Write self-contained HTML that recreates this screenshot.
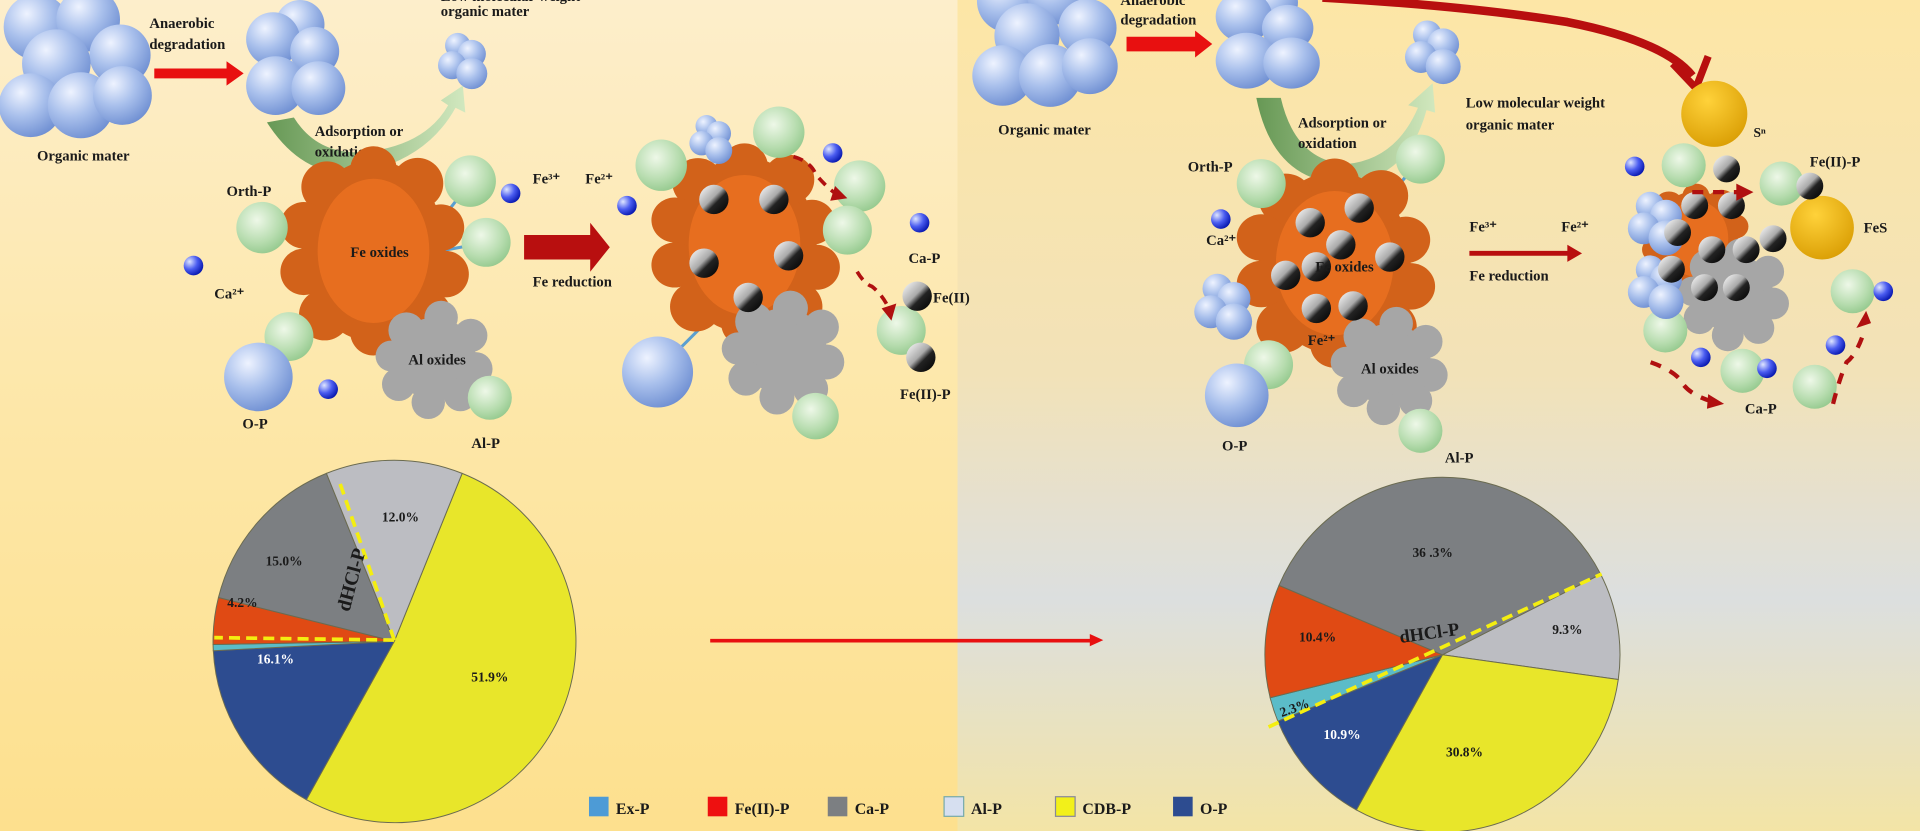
<!DOCTYPE html>
<html><head><meta charset="utf-8"><style>
html,body{margin:0;padding:0;width:1920px;height:831px;overflow:hidden;background:#fde7a6}
svg{display:block}
text{font-family:"Liberation Serif",serif;font-weight:bold;fill:#1a1a1a}
</style></head><body>
<svg width="1920" height="831" viewBox="0 0 1568 679" preserveAspectRatio="none" xmlns="http://www.w3.org/2000/svg">
<defs>
<linearGradient id="bgL" x1="0" y1="0" x2="0" y2="1"><stop offset="0" stop-color="#fdeecb"/><stop offset="0.5" stop-color="#fde7a8"/><stop offset="1" stop-color="#fde08e"/></linearGradient>
<linearGradient id="bgR" x1="0" y1="0" x2="0" y2="1"><stop offset="0" stop-color="#fde6a6"/><stop offset="0.45" stop-color="#f2e2b8"/><stop offset="0.72" stop-color="#dcdfdf"/><stop offset="1" stop-color="#f3e4a6"/></linearGradient>
<radialGradient id="bl" cx="0.35" cy="0.3" r="0.75"><stop offset="0" stop-color="#eef3ff"/><stop offset="0.5" stop-color="#a9c0ec"/><stop offset="1" stop-color="#6f8fd2"/></radialGradient>
<radialGradient id="gr" cx="0.4" cy="0.35" r="0.75"><stop offset="0" stop-color="#eef8e8"/><stop offset="0.6" stop-color="#b6dcae"/><stop offset="1" stop-color="#8cc486"/></radialGradient>
<radialGradient id="sb" cx="0.3" cy="0.3" r="0.8"><stop offset="0" stop-color="#dfe6ff"/><stop offset="0.5" stop-color="#4a5cf0"/><stop offset="1" stop-color="#0010a8"/></radialGradient>
<linearGradient id="bk" x1="0" y1="0" x2="1" y2="1"><stop offset="0" stop-color="#ffffff"/><stop offset="0.45" stop-color="#aaa"/><stop offset="0.6" stop-color="#222"/><stop offset="1" stop-color="#000"/></linearGradient>
<radialGradient id="au" cx="0.4" cy="0.3" r="0.8"><stop offset="0" stop-color="#ffd23a"/><stop offset="1" stop-color="#d79a00"/></radialGradient>
<linearGradient id="ga" x1="0" y1="0" x2="1" y2="0"><stop offset="0" stop-color="#5f9450"/><stop offset="1" stop-color="#cfe8bf"/></linearGradient>
<g id="big"><circle cx="30" cy="22" r="27" fill="url(#bl)"/><circle cx="72" cy="16" r="26" fill="url(#bl)"/><circle cx="98" cy="45" r="25" fill="url(#bl)"/><circle cx="46" cy="52" r="28" fill="url(#bl)"/><circle cx="25" cy="86" r="26" fill="url(#bl)"/><circle cx="66" cy="86" r="27" fill="url(#bl)"/><circle cx="100" cy="78" r="24" fill="url(#bl)"/></g>
<g id="mid"><circle cx="40" cy="18" r="20" fill="url(#bl)"/><circle cx="18" cy="30" r="22" fill="url(#bl)"/><circle cx="52" cy="40" r="20" fill="url(#bl)"/><circle cx="20" cy="68" r="24" fill="url(#bl)"/><circle cx="55" cy="70" r="22" fill="url(#bl)"/></g>
<g id="sm"><circle cx="12" cy="8" r="9" fill="url(#bl)"/><circle cx="22" cy="14" r="10" fill="url(#bl)"/><circle cx="8" cy="22" r="10" fill="url(#bl)"/><circle cx="22" cy="28" r="11" fill="url(#bl)"/></g>
<g id="ogb"><ellipse cx="0" cy="0" rx="62" ry="78" fill="#d2621a"/><circle cx="-40" cy="-55" r="22" fill="#d2621a"/><circle cx="0" cy="-70" r="20" fill="#d2621a"/><circle cx="38" cy="-58" r="22" fill="#d2621a"/><circle cx="58" cy="-20" r="20" fill="#d2621a"/><circle cx="62" cy="20" r="20" fill="#d2621a"/><circle cx="45" cy="55" r="22" fill="#d2621a"/><circle cx="0" cy="70" r="20" fill="#d2621a"/><circle cx="-42" cy="55" r="22" fill="#d2621a"/><circle cx="-60" cy="18" r="20" fill="#d2621a"/><circle cx="-60" cy="-22" r="20" fill="#d2621a"/><ellipse cx="0" cy="0" rx="48" ry="62" fill="#ec7220" opacity="0.8"/></g>
<g id="alb" fill="#a6a6a6"><ellipse cx="0" cy="0" rx="32" ry="32"/><circle cx="-22" cy="-22" r="14"/><circle cx="5" cy="-32" r="13"/><circle cx="28" cy="-18" r="13"/><circle cx="32" cy="8" r="13"/><circle cx="20" cy="28" r="13"/><circle cx="-5" cy="34" r="13"/><circle cx="-28" cy="20" r="13"/><circle cx="-34" cy="-2" r="12"/></g>
</defs>
<rect x="0" y="0" width="782" height="679" fill="url(#bgL)"/>
<rect x="782" y="0" width="786" height="679" fill="url(#bgR)"/>

<!-- LEFT TOP -->
<use href="#big" x="0" y="0"/>
<text x="68" y="131" font-size="12" text-anchor="middle">Organic mater</text>
<text x="122" y="23" font-size="12">Anaerobic</text><text x="122" y="40" font-size="12">degradation</text>
<path d="M126 56 H185 V50 L199 60 L185 70 V64 H126 Z" fill="#e81010"/>
<use href="#mid" x="205" y="2"/>
<use href="#sm" transform="translate(360,28) scale(1.15)"/>
<text x="360" y="1" font-size="12">Low  molecular weight</text><text x="360" y="13" font-size="12">organic mater</text>
<path d="M218 100 Q250 150 300 140 Q350 128 372 88 L380 92 L378 70 L360 82 L366 86 Q348 118 300 124 Q260 128 240 96 Z" fill="url(#ga)" opacity="0.95"/>
<text x="257" y="111" font-size="12">Adsorption or</text><text x="257" y="128" font-size="12">oxidation</text>
<g stroke="#5a9fd0" stroke-width="2.5"><line x1="214" y1="186" x2="260" y2="200"/><line x1="385" y1="148" x2="360" y2="180"/><line x1="398" y1="198" x2="360" y2="205"/><line x1="237" y1="275" x2="265" y2="255"/><line x1="400" y1="325" x2="370" y2="300"/></g>
<use href="#ogb" transform="translate(305,205) scale(0.95,0.95)"/>
<text x="310" y="210" font-size="12" text-anchor="middle">Fe oxides</text>
<use href="#alb" transform="translate(355,293) scale(1.05)"/>
<text x="357" y="298" font-size="12" text-anchor="middle">Al oxides</text>
<circle cx="214" cy="186" r="21" fill="url(#gr)"/>
<circle cx="384" cy="148" r="21" fill="url(#gr)"/>
<circle cx="397" cy="198" r="20" fill="url(#gr)"/>
<circle cx="236" cy="275" r="20" fill="url(#gr)"/>
<circle cx="400" cy="325" r="18" fill="url(#gr)"/>
<circle cx="211" cy="308" r="28" fill="url(#bl)"/>
<circle cx="158" cy="217" r="8" fill="url(#sb)"/><circle cx="417" cy="158" r="8" fill="url(#sb)"/><circle cx="268" cy="318" r="8" fill="url(#sb)"/><circle cx="512" cy="168" r="8" fill="url(#sb)"/>
<text x="185" y="160" font-size="12">Orth-P</text>
<text x="175" y="244" font-size="12">Ca²⁺</text>
<text x="198" y="350" font-size="12">O-P</text>
<text x="385" y="366" font-size="12">Al-P</text>
<text x="435" y="150" font-size="12">Fe³⁺</text><text x="478" y="150" font-size="12">Fe²⁺</text>
<text x="435" y="234" font-size="12">Fe reduction</text>
<path d="M428 192 H482 V182 L498 202 L482 222 V212 H428 Z" fill="#b80f0f"/>

<g stroke="#5a9fd0" stroke-width="2.5"><line x1="540" y1="135" x2="570" y2="155"/><line x1="540" y1="300" x2="580" y2="260"/><line x1="665" y1="340" x2="650" y2="310"/></g>
<use href="#ogb" transform="translate(608,200) scale(0.95,0.92)"/>
<use href="#alb" transform="translate(640,287) scale(1.1)"/>
<use href="#sm" x="565" y="95"/>
<circle cx="540" cy="135" r="21" fill="url(#gr)"/>
<circle cx="636" cy="108" r="21" fill="url(#gr)"/>
<circle cx="702" cy="152" r="21" fill="url(#gr)"/>
<circle cx="692" cy="188" r="20" fill="url(#gr)"/>
<circle cx="736" cy="270" r="20" fill="url(#gr)"/>
<circle cx="666" cy="340" r="19" fill="url(#gr)"/>
<circle cx="537" cy="304" r="29" fill="url(#bl)"/>
<circle cx="680" cy="125" r="8" fill="url(#sb)"/><circle cx="751" cy="182" r="8" fill="url(#sb)"/>
<g fill="url(#bk)"><circle cx="583" cy="163" r="12"/><circle cx="632" cy="163" r="12"/><circle cx="644" cy="209" r="12"/><circle cx="575" cy="215" r="12"/><circle cx="611" cy="243" r="12"/><circle cx="749" cy="242" r="12"/><circle cx="752" cy="292" r="12"/></g>
<path d="M648 128 Q662 132 666 142 Q672 150 682 158" stroke="#b01010" stroke-width="3" fill="none" stroke-dasharray="8 6"/><path d="M682 152 L692 162 L678 164 Z" fill="#b01010"/>
<path d="M700 222 Q706 232 712 234 Q720 240 726 252" stroke="#b01010" stroke-width="3" fill="none" stroke-dasharray="8 6"/><path d="M720 252 L728 262 L732 248 Z" fill="#b01010"/>
<text x="742" y="215" font-size="12">Ca-P</text>
<text x="762" y="247" font-size="12">Fe(II)</text>
<text x="735" y="326" font-size="12">Fe(II)-P</text>

<!-- RIGHT TOP -->
<use href="#big" transform="translate(795,-20) scale(0.95)"/>
<text x="853" y="110" font-size="12" text-anchor="middle">Organic mater</text>
<text x="915" y="4" font-size="12">Anaerobic</text><text x="915" y="20" font-size="12">degradation</text>
<path d="M920 30 H976 V25 L990 36 L976 47 V42 H920 Z" fill="#e81010"/>
<use href="#mid" transform="translate(997,-15) scale(1.05,0.95)"/>
<use href="#sm" transform="translate(1150,18) scale(1.3)"/>
<path d="M1080 -2 Q1200 5 1280 18 Q1360 34 1382 62" stroke="#b80f0f" stroke-width="7" fill="none"/>
<path d="M1366 52 L1385 72 L1395 46" stroke="#b80f0f" stroke-width="6" fill="none"/>
<text x="1197" y="88" font-size="12">Low  molecular weight</text><text x="1197" y="106" font-size="12">organic mater</text>
<path d="M1026 80 Q1040 150 1100 150 Q1150 145 1165 90 L1172 92 L1170 68 L1150 86 L1158 88 Q1140 130 1100 134 Q1058 132 1046 80 Z" fill="url(#ga)" opacity="0.95"/>
<text x="1060" y="104" font-size="12">Adsorption or</text><text x="1060" y="121" font-size="12">oxidation</text>
<g stroke="#5a9fd0" stroke-width="2.5"><line x1="1030" y1="150" x2="1060" y2="175"/><line x1="1160" y1="130" x2="1135" y2="160"/><line x1="1035" y1="297" x2="1060" y2="270"/><line x1="1160" y1="352" x2="1150" y2="320"/></g>
<use href="#ogb" transform="translate(1090,215) scale(1,0.95)"/>
<use href="#alb" transform="translate(1135,298) scale(1.05)"/>
<circle cx="1030" cy="150" r="20" fill="url(#gr)"/>
<circle cx="1160" cy="130" r="20" fill="url(#gr)"/>
<circle cx="1036" cy="298" r="20" fill="url(#gr)"/>
<circle cx="1160" cy="352" r="18" fill="url(#gr)"/>
<circle cx="1010" cy="323" r="26" fill="url(#bl)"/>
<use href="#sm" transform="translate(978,225) scale(1.35)"/>
<circle cx="997" cy="179" r="8" fill="url(#sb)"/>
<g fill="url(#bk)"><circle cx="1070" cy="182" r="12"/><circle cx="1110" cy="170" r="12"/><circle cx="1095" cy="200" r="12"/><circle cx="1075" cy="218" r="12"/><circle cx="1135" cy="210" r="12"/><circle cx="1050" cy="225" r="12"/><circle cx="1075" cy="252" r="12"/><circle cx="1105" cy="250" r="12"/></g>
<text x="1098" y="222" font-size="12" text-anchor="middle">Fe oxides</text>
<text x="1068" y="282" font-size="12">Fe²⁺</text>
<text x="1135" y="305" font-size="12" text-anchor="middle">Al oxides</text>
<text x="970" y="140" font-size="12">Orth-P</text>
<text x="985" y="200" font-size="12">Ca²⁺</text>
<text x="998" y="368" font-size="12">O-P</text>
<text x="1180" y="378" font-size="12">Al-P</text>
<text x="1200" y="189" font-size="12">Fe³⁺</text><text x="1275" y="189" font-size="12">Fe²⁺</text>
<text x="1200" y="229" font-size="12">Fe reduction</text>
<path d="M1200 205 H1280 V200 L1292 207 L1280 214 V209 H1200 Z" fill="#b80f0f"/>

<circle cx="1400" cy="93" r="27" fill="url(#au)"/>
<text x="1432" y="112" font-size="11">Sⁿ</text>
<use href="#ogb" transform="translate(1385,195) scale(0.55,0.5)"/>
<use href="#alb" transform="translate(1416,240) scale(1.0)"/>
<circle cx="1488" cy="186" r="26" fill="url(#au)"/>
<circle cx="1375" cy="135" r="18" fill="url(#gr)"/>
<circle cx="1455" cy="150" r="18" fill="url(#gr)"/>
<circle cx="1513" cy="238" r="18" fill="url(#gr)"/>
<circle cx="1360" cy="270" r="18" fill="url(#gr)"/>
<circle cx="1423" cy="303" r="18" fill="url(#gr)"/>
<circle cx="1482" cy="316" r="18" fill="url(#gr)"/>
<use href="#sm" transform="translate(1332,158) scale(1.3)"/>
<use href="#sm" transform="translate(1332,210) scale(1.3)"/>
<g fill="url(#bk)"><circle cx="1410" cy="138" r="11"/><circle cx="1478" cy="152" r="11"/><circle cx="1384" cy="168" r="11"/><circle cx="1414" cy="168" r="11"/><circle cx="1370" cy="190" r="11"/><circle cx="1398" cy="204" r="11"/><circle cx="1426" cy="204" r="11"/><circle cx="1365" cy="220" r="11"/><circle cx="1392" cy="235" r="11"/><circle cx="1418" cy="235" r="11"/><circle cx="1448" cy="195" r="11"/></g>
<g fill="url(#sb)"><circle cx="1335" cy="136" r="8"/><circle cx="1538" cy="238" r="8"/><circle cx="1389" cy="292" r="8"/><circle cx="1443" cy="301" r="8"/><circle cx="1499" cy="282" r="8"/></g>
<g stroke="#b01010" stroke-width="3.5" fill="none" stroke-dasharray="9 8"><path d="M1382 157 H1425"/><path d="M1348 296 Q1365 302 1372 310 Q1378 322 1398 328"/><path d="M1497 330 Q1502 310 1508 296 Q1516 290 1522 272"/></g>
<path d="M1418 150 L1432 157 L1418 164 Z" fill="#b01010"/><path d="M1395 322 L1408 330 L1394 334 Z" fill="#b01010"/><path d="M1516 268 L1528 264 L1524 254 Z" fill="#b01010"/>
<text x="1478" y="136" font-size="12">Fe(II)-P</text>
<text x="1522" y="190" font-size="12">FeS</text>
<text x="1425" y="338" font-size="12">Ca-P</text>

<!-- PIES -->
<g stroke="#6b6b50" stroke-width="0.8">
<path d="M322 524 L377.4 386.8 A148 148 0 1 1 250.2 653.4 Z" fill="#e8e62a"/>
<path d="M322 524 L250.2 653.4 A148 148 0 0 1 174.2 531.7 Z" fill="#2d4c90"/>
<path d="M322 524 L174.2 531.7 A148 148 0 0 1 174.0 526.6 Z" fill="#5bbcc8"/>
<path d="M322 524 L174.0 526.6 A148 148 0 0 1 178.4 488.2 Z" fill="#e04a14"/>
<path d="M322 524 L178.4 488.2 A148 148 0 0 1 266.6 386.8 Z" fill="#7c7f82"/>
<path d="M322 524 L266.6 386.8 A148 148 0 0 1 377.4 386.8 Z" fill="#bcbdc2"/>
<path d="M1178 535 L1307.2 469.2 A145 145 0 0 1 1321.6 555.2 Z" fill="#bcbdc2"/>
<path d="M1178 535 L1321.6 555.2 A145 145 0 0 1 1107.7 661.8 Z" fill="#e8e62a"/>
<path d="M1178 535 L1107.7 661.8 A145 145 0 0 1 1043.6 589.3 Z" fill="#2d4c90"/>
<path d="M1178 535 L1043.6 589.3 A145 145 0 0 1 1037.3 570.1 Z" fill="#5bbcc8"/>
<path d="M1178 535 L1037.3 570.1 A145 145 0 0 1 1044.5 478.3 Z" fill="#e04a14"/>
<path d="M1178 535 L1044.5 478.3 A145 145 0 0 1 1307.2 469.2 Z" fill="#7c7f82"/>
</g>
<g stroke="#f4ee10" stroke-width="3" stroke-dasharray="9 5" fill="none">
<line x1="322" y1="523" x2="175" y2="521"/><line x1="322" y1="523" x2="277" y2="393"/>
<line x1="1036" y1="594" x2="1308" y2="469"/>
</g>
<g font-size="11">
<text x="327" y="426" text-anchor="middle">12.0%</text>
<text x="232" y="462" text-anchor="middle">15.0%</text>
<text x="198" y="496" text-anchor="middle">4.2%</text>
<text x="225" y="542" text-anchor="middle" style="fill:#fff">16.1%</text>
<text x="400" y="557" text-anchor="middle">51.9%</text>
<text x="1170" y="455" text-anchor="middle">36 .3%</text>
<text x="1076" y="524" text-anchor="middle">10.4%</text>
<text x="1280" y="518" text-anchor="middle">9.3%</text>
<text x="1057" y="582" text-anchor="middle" transform="rotate(-20 1057 578)">2.3%</text>
<text x="1096" y="604" text-anchor="middle" style="fill:#fff">10.9%</text>
<text x="1196" y="618" text-anchor="middle">30.8%</text>
</g>
<text x="292" y="475" font-size="16" text-anchor="middle" transform="rotate(-75 292 475)">dHCl-P</text>
<text x="1168" y="522" font-size="15" text-anchor="middle" transform="rotate(-8 1168 522)">dHCl-P</text>
<path d="M580 522 H890 V518 L901 523 L890 528 V525 H580 Z" fill="#e81010"/>

<!-- LEGEND -->
<g font-size="13">
<rect x="481" y="651" width="16" height="16" fill="#4d9bd6"/><text x="503" y="665">Ex-P</text>
<rect x="578" y="651" width="16" height="16" fill="#ee1010"/><text x="600" y="665">Fe(II)-P</text>
<rect x="676" y="651" width="16" height="16" fill="#7c7f82"/><text x="698" y="665">Ca-P</text>
<rect x="771" y="651" width="16" height="16" fill="#d6dff0" stroke="#7aa" stroke-width="1"/><text x="793" y="665">Al-P</text>
<rect x="862" y="651" width="16" height="16" fill="#f2f01a" stroke="#889" stroke-width="1"/><text x="884" y="665">CDB-P</text>
<rect x="958" y="651" width="16" height="16" fill="#2d4c90"/><text x="980" y="665">O-P</text>
</g>
</svg>
</body></html>
